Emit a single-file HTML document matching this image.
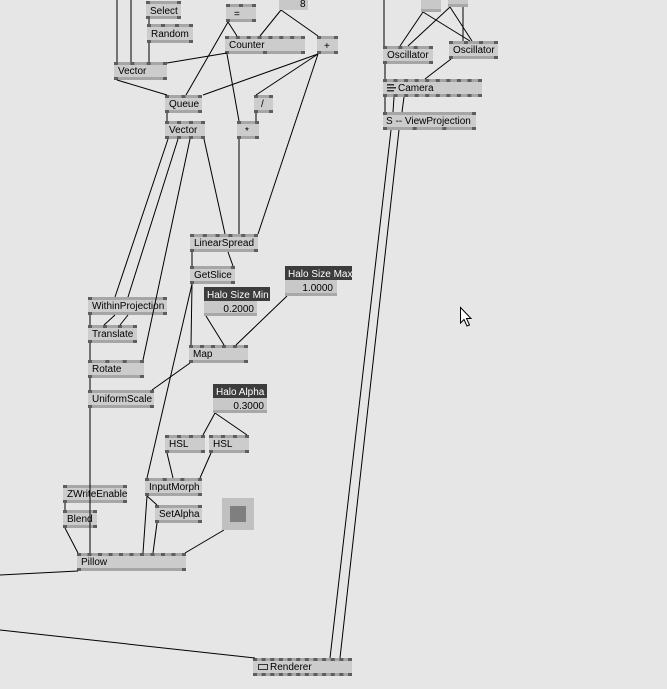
<!DOCTYPE html>
<html><head><meta charset="utf-8"><style>
html,body{margin:0;padding:0;background:#e6e6e6;}
svg{display:block;font-family:"Liberation Sans",sans-serif;font-size:10px;}
</style></head><body>
<svg width="667" height="689" viewBox="0 0 667 689" xmlns="http://www.w3.org/2000/svg">
<rect width="667" height="689" fill="#e6e6e6"/>
<g fill="#cccccc">
<rect x="146" y="1" width="35" height="18"/><rect x="147" y="24" width="46" height="19"/><rect x="226" y="4" width="30" height="18"/>
<rect x="225" y="36" width="80" height="18"/><rect x="317" y="36" width="21" height="18"/><rect x="114" y="62" width="53" height="18"/>
<rect x="165" y="95" width="37" height="18"/><rect x="165" y="121" width="40" height="18"/><rect x="254" y="95" width="19" height="18"/>
<rect x="237" y="121" width="22" height="18"/><rect x="383" y="46" width="50" height="18"/><rect x="449" y="41" width="49" height="18"/>
<rect x="383" y="79" width="99" height="18"/><rect x="383" y="112" width="93" height="18"/><rect x="190" y="234" width="68" height="18"/>
<rect x="190" y="266" width="45" height="18"/><rect x="88" y="297" width="79" height="18"/><rect x="88" y="325" width="49" height="18"/>
<rect x="88" y="360" width="56" height="18"/><rect x="189" y="345" width="59" height="18"/><rect x="88" y="390" width="66" height="18"/>
<rect x="165" y="435" width="40" height="18"/><rect x="209" y="435" width="40" height="18"/><rect x="145" y="478" width="57" height="18"/>
<rect x="63" y="485" width="64" height="18"/><rect x="63" y="510" width="34" height="18"/><rect x="155" y="505" width="47" height="18"/>
<rect x="77" y="553" width="109" height="18"/><rect x="253" y="658" width="99" height="18"/>
</g>
<g stroke="#a6a6a6" stroke-width="3">
<line x1="146" y1="2.5" x2="181" y2="2.5"/><line x1="146" y1="17.5" x2="181" y2="17.5"/>
<line x1="147" y1="25.5" x2="193" y2="25.5"/><line x1="147" y1="41.5" x2="193" y2="41.5"/>
<line x1="226" y1="5.5" x2="256" y2="5.5"/><line x1="226" y1="20.5" x2="256" y2="20.5"/>
<line x1="225" y1="37.5" x2="305" y2="37.5"/><line x1="225" y1="52.5" x2="305" y2="52.5"/>
<line x1="317" y1="37.5" x2="338" y2="37.5"/><line x1="317" y1="52.5" x2="338" y2="52.5"/>
<line x1="114" y1="63.5" x2="167" y2="63.5"/><line x1="114" y1="78.5" x2="167" y2="78.5"/>
<line x1="165" y1="96.5" x2="202" y2="96.5"/><line x1="165" y1="111.5" x2="202" y2="111.5"/>
<line x1="165" y1="122.5" x2="205" y2="122.5"/><line x1="165" y1="137.5" x2="205" y2="137.5"/>
<line x1="254" y1="96.5" x2="273" y2="96.5"/><line x1="254" y1="111.5" x2="273" y2="111.5"/>
<line x1="237" y1="122.5" x2="259" y2="122.5"/><line x1="237" y1="137.5" x2="259" y2="137.5"/>
<line x1="383" y1="47.5" x2="433" y2="47.5"/><line x1="383" y1="62.5" x2="433" y2="62.5"/>
<line x1="449" y1="42.5" x2="498" y2="42.5"/><line x1="449" y1="57.5" x2="498" y2="57.5"/>
<line x1="383" y1="80.5" x2="482" y2="80.5"/><line x1="383" y1="95.5" x2="482" y2="95.5"/>
<line x1="383" y1="113.5" x2="476" y2="113.5"/><line x1="383" y1="128.5" x2="476" y2="128.5"/>
<line x1="190" y1="235.5" x2="258" y2="235.5"/><line x1="190" y1="250.5" x2="258" y2="250.5"/>
<line x1="190" y1="267.5" x2="235" y2="267.5"/><line x1="190" y1="282.5" x2="235" y2="282.5"/>
<line x1="88" y1="298.5" x2="167" y2="298.5"/><line x1="88" y1="313.5" x2="167" y2="313.5"/>
<line x1="88" y1="326.5" x2="137" y2="326.5"/><line x1="88" y1="341.5" x2="137" y2="341.5"/>
<line x1="88" y1="361.5" x2="144" y2="361.5"/><line x1="88" y1="376.5" x2="144" y2="376.5"/>
<line x1="189" y1="346.5" x2="248" y2="346.5"/><line x1="189" y1="361.5" x2="248" y2="361.5"/>
<line x1="88" y1="391.5" x2="154" y2="391.5"/><line x1="88" y1="406.5" x2="154" y2="406.5"/>
<line x1="165" y1="436.5" x2="205" y2="436.5"/><line x1="165" y1="451.5" x2="205" y2="451.5"/>
<line x1="209" y1="436.5" x2="249" y2="436.5"/><line x1="209" y1="451.5" x2="249" y2="451.5"/>
<line x1="145" y1="479.5" x2="202" y2="479.5"/><line x1="145" y1="494.5" x2="202" y2="494.5"/>
<line x1="63" y1="486.5" x2="127" y2="486.5"/><line x1="63" y1="501.5" x2="127" y2="501.5"/>
<line x1="63" y1="511.5" x2="97" y2="511.5"/><line x1="63" y1="526.5" x2="97" y2="526.5"/>
<line x1="155" y1="506.5" x2="202" y2="506.5"/><line x1="155" y1="521.5" x2="202" y2="521.5"/>
<line x1="77" y1="554.5" x2="186" y2="554.5"/><line x1="77" y1="569.5" x2="186" y2="569.5"/>
<line x1="253" y1="659.5" x2="352" y2="659.5"/><line x1="253" y1="674.5" x2="352" y2="674.5"/>
</g>
<g stroke="#5e5e5e" stroke-width="3">
<line x1="146" y1="2.5" x2="181" y2="2.5" stroke-dasharray="4 27"/><line x1="146" y1="17.5" x2="181" y2="17.5" stroke-dasharray="4 27"/>
<line x1="147" y1="25.5" x2="193" y2="25.5" stroke-dasharray="4 10"/><line x1="147" y1="41.5" x2="193" y2="41.5" stroke-dasharray="4 38"/>
<line x1="226" y1="5.5" x2="256" y2="5.5" stroke-dasharray="4 9"/><line x1="226" y1="20.5" x2="256" y2="20.5" stroke-dasharray="4 22"/>
<line x1="225" y1="37.5" x2="305" y2="37.5" stroke-dasharray="4 6.857"/><line x1="225" y1="52.5" x2="305" y2="52.5" stroke-dasharray="4 34"/>
<line x1="317" y1="37.5" x2="338" y2="37.5" stroke-dasharray="4 13"/><line x1="317" y1="52.5" x2="338" y2="52.5" stroke-dasharray="4 13"/>
<line x1="114" y1="63.5" x2="167" y2="63.5" stroke-dasharray="4 12.33"/><line x1="114" y1="78.5" x2="167" y2="78.5" stroke-dasharray="4 45"/>
<line x1="165" y1="96.5" x2="202" y2="96.5" stroke-dasharray="4 12.5"/><line x1="165" y1="111.5" x2="202" y2="111.5" stroke-dasharray="4 29"/>
<line x1="165" y1="122.5" x2="205" y2="122.5" stroke-dasharray="4 8"/><line x1="165" y1="137.5" x2="205" y2="137.5" stroke-dasharray="4 8"/>
<line x1="254" y1="96.5" x2="273" y2="96.5" stroke-dasharray="4 11"/><line x1="254" y1="111.5" x2="273" y2="111.5" stroke-dasharray="4 11"/>
<line x1="237" y1="122.5" x2="259" y2="122.5" stroke-dasharray="4 14"/><line x1="237" y1="137.5" x2="259" y2="137.5" stroke-dasharray="4 14"/>
<line x1="383" y1="47.5" x2="433" y2="47.5" stroke-dasharray="4 11.33"/><line x1="383" y1="62.5" x2="433" y2="62.5" stroke-dasharray="4 42"/>
<line x1="449" y1="42.5" x2="498" y2="42.5" stroke-dasharray="4 11"/><line x1="449" y1="57.5" x2="498" y2="57.5" stroke-dasharray="4 41"/>
<line x1="383" y1="80.5" x2="482" y2="80.5" stroke-dasharray="4 6.56"/><line x1="383" y1="95.5" x2="482" y2="95.5" stroke-dasharray="4 6.56"/>
<line x1="383" y1="113.5" x2="476" y2="113.5" stroke-dasharray="4 85"/><line x1="383" y1="128.5" x2="476" y2="128.5" stroke-dasharray="4 25.67"/>
<line x1="190" y1="235.5" x2="258" y2="235.5" stroke-dasharray="4 8.8"/><line x1="190" y1="250.5" x2="258" y2="250.5" stroke-dasharray="4 60"/>
<line x1="190" y1="267.5" x2="235" y2="267.5" stroke-dasharray="4 37"/><line x1="190" y1="282.5" x2="235" y2="282.5" stroke-dasharray="4 37"/>
<line x1="88" y1="298.5" x2="167" y2="298.5" stroke-dasharray="4 71"/><line x1="88" y1="313.5" x2="167" y2="313.5" stroke-dasharray="4 71"/>
<line x1="88" y1="326.5" x2="137" y2="326.5" stroke-dasharray="4 11"/><line x1="88" y1="341.5" x2="137" y2="341.5" stroke-dasharray="4 41"/>
<line x1="88" y1="361.5" x2="144" y2="361.5" stroke-dasharray="4 13.33"/><line x1="88" y1="376.5" x2="144" y2="376.5" stroke-dasharray="4 48"/>
<line x1="189" y1="346.5" x2="248" y2="346.5" stroke-dasharray="4 7"/><line x1="189" y1="361.5" x2="248" y2="361.5" stroke-dasharray="4 51"/>
<line x1="88" y1="391.5" x2="154" y2="391.5" stroke-dasharray="4 58"/><line x1="88" y1="406.5" x2="154" y2="406.5" stroke-dasharray="4 58"/>
<line x1="165" y1="436.5" x2="205" y2="436.5" stroke-dasharray="4 8"/><line x1="165" y1="451.5" x2="205" y2="451.5" stroke-dasharray="4 32"/>
<line x1="209" y1="436.5" x2="249" y2="436.5" stroke-dasharray="4 8"/><line x1="209" y1="451.5" x2="249" y2="451.5" stroke-dasharray="4 32"/>
<line x1="145" y1="479.5" x2="202" y2="479.5" stroke-dasharray="4 13.67"/><line x1="145" y1="494.5" x2="202" y2="494.5" stroke-dasharray="4 49"/>
<line x1="63" y1="486.5" x2="127" y2="486.5" stroke-dasharray="4 56"/><line x1="63" y1="501.5" x2="127" y2="501.5" stroke-dasharray="4 56"/>
<line x1="63" y1="511.5" x2="97" y2="511.5" stroke-dasharray="4 26"/><line x1="63" y1="526.5" x2="97" y2="526.5" stroke-dasharray="4 26"/>
<line x1="155" y1="506.5" x2="202" y2="506.5" stroke-dasharray="4 39"/><line x1="155" y1="521.5" x2="202" y2="521.5" stroke-dasharray="4 39"/>
<line x1="77" y1="554.5" x2="186" y2="554.5" stroke-dasharray="4 6.5"/><line x1="77" y1="569.5" x2="186" y2="569.5" stroke-dasharray="4 101"/>
<line x1="253" y1="659.5" x2="352" y2="659.5" stroke-dasharray="4 4.64"/><line x1="253" y1="674.5" x2="352" y2="674.5" stroke-dasharray="4 4.64"/>
</g>
<g stroke="#000" stroke-width="1" fill="none">
<line x1="117" y1="0" x2="117" y2="62"/><line x1="131" y1="0" x2="131" y2="62"/>
<line x1="149" y1="19" x2="149" y2="24"/><line x1="149" y1="43" x2="149" y2="62"/>
<line x1="167" y1="63" x2="227" y2="53"/>
<line x1="117" y1="80" x2="167" y2="95"/>
<line x1="203" y1="95" x2="318" y2="54"/>
<line x1="228" y1="22" x2="186" y2="95"/>
<line x1="228" y1="22" x2="237" y2="36"/>
<line x1="227" y1="54" x2="239" y2="121"/>
<line x1="281" y1="10" x2="260" y2="36"/><line x1="281" y1="10" x2="318" y2="36"/>
<line x1="318" y1="54" x2="256" y2="95"/><line x1="318" y1="54" x2="258" y2="234"/>
<line x1="256" y1="113" x2="256" y2="121"/>
<line x1="239" y1="139" x2="239" y2="234"/>
<line x1="167" y1="113" x2="167" y2="121"/>
<line x1="168" y1="139" x2="115" y2="297"/><line x1="178" y1="139" x2="128" y2="297"/>
<line x1="190" y1="139" x2="143" y2="360"/><line x1="204" y1="139" x2="225" y2="234"/>
<line x1="115" y1="315" x2="104" y2="325"/><line x1="128" y1="315" x2="120" y2="325"/>
<line x1="192" y1="284" x2="147" y2="478"/>
<line x1="192" y1="284" x2="191" y2="345"/>
<line x1="228" y1="252" x2="233" y2="266"/><line x1="192" y1="252" x2="192" y2="266"/>
<line x1="206" y1="316" x2="224" y2="345"/><line x1="287" y1="296" x2="236" y2="345"/>
<line x1="190" y1="363" x2="152" y2="390"/>
<line x1="90" y1="315" x2="90" y2="325"/><line x1="90" y1="343" x2="90" y2="360"/>
<line x1="90" y1="378" x2="90" y2="390"/><line x1="90" y1="408" x2="90" y2="553"/>
<line x1="65" y1="503" x2="65" y2="510"/><line x1="65" y1="528" x2="78" y2="553"/>
<line x1="215" y1="413" x2="203" y2="435"/><line x1="215" y1="413" x2="247" y2="435"/>
<line x1="167" y1="453" x2="173" y2="478"/><line x1="211" y1="453" x2="200" y2="478"/>
<line x1="147" y1="496" x2="143" y2="553"/><line x1="147" y1="496" x2="157" y2="505"/>
<line x1="157" y1="523" x2="153" y2="553"/>
<line x1="224" y1="530" x2="185" y2="553"/>
<line x1="78" y1="571" x2="0" y2="575"/>
<line x1="0" y1="630" x2="255" y2="658"/>
<line x1="391" y1="130" x2="330" y2="658"/><line x1="399" y1="130" x2="340" y2="658"/>
<line x1="385" y1="97" x2="385" y2="112"/><line x1="394" y1="97" x2="393" y2="112"/><line x1="404" y1="97" x2="402" y2="112"/>
<line x1="385" y1="64" x2="385" y2="79"/><line x1="451" y1="59" x2="425" y2="79"/>
<line x1="384" y1="0" x2="384" y2="46"/>
<line x1="423" y1="12" x2="400" y2="46"/><line x1="450" y1="7" x2="408" y2="46"/>
<line x1="423" y1="12" x2="470" y2="41"/><line x1="450" y1="7" x2="472" y2="41"/>
<line x1="463" y1="7" x2="463" y2="41"/>
</g>
<rect x="279" y="0" width="29" height="10" fill="#c8c8c8"/><text x="300" y="7">8</text>
<rect x="421" y="0" width="20" height="12" fill="#c8c8c8"/><rect x="421" y="9" width="20" height="3" fill="#a8a8a8"/>
<rect x="448" y="0" width="20" height="7" fill="#c8c8c8"/><rect x="448" y="4" width="20" height="3" fill="#a8a8a8"/>
<rect x="222" y="498" width="32" height="32" fill="#c0c0c0"/><rect x="230" y="506" width="16" height="16" fill="#7f7f7f"/>
<rect x="285" y="266" width="67" height="14" fill="#3c3c3c"/><text x="288" y="277" fill="#fff">Halo Size Max</text>
<rect x="285" y="280" width="52" height="16" fill="#c8c8c8"/><rect x="285" y="293" width="52" height="3" fill="#a8a8a8"/><text x="333" y="291" text-anchor="end">1.0000</text>
<rect x="204" y="287" width="66" height="14" fill="#3c3c3c"/><text x="207" y="298" fill="#fff">Halo Size Min</text>
<rect x="204" y="301" width="53" height="15" fill="#c8c8c8"/><rect x="204" y="313" width="53" height="3" fill="#a8a8a8"/><text x="254" y="312" text-anchor="end">0.2000</text>
<rect x="213" y="384" width="54" height="14" fill="#3c3c3c"/><text x="216" y="395" fill="#fff">Halo Alpha</text>
<rect x="213" y="398" width="54" height="15" fill="#c8c8c8"/><rect x="213" y="410" width="54" height="3" fill="#a8a8a8"/><text x="264" y="409" text-anchor="end">0.3000</text>
<g>
<text x="150" y="14">Select</text><text x="151" y="37">Random</text><text x="234" y="17">=</text>
<text x="229" y="48">Counter</text><text x="324" y="49">+</text><text x="118" y="74">Vector</text>
<text x="169" y="107">Queue</text><text x="169" y="133">Vector</text><text x="261" y="107">/</text><text x="245" y="134">*</text>
<text x="387" y="58">Oscillator</text><text x="453" y="53">Oscillator</text>
<text x="398" y="91">Camera</text><text x="386" y="124">S  --  ViewProjection</text>
<text x="194" y="246">LinearSpread</text><text x="194" y="278">GetSlice</text>
<text x="92" y="309">WithinProjection</text><text x="92" y="337">Translate</text><text x="92" y="372">Rotate</text>
<text x="193" y="357">Map</text><text x="92" y="402">UniformScale</text>
<text x="169" y="447">HSL</text><text x="213" y="447">HSL</text><text x="149" y="490">InputMorph</text>
<text x="67" y="497">ZWriteEnable</text><text x="67" y="522">Blend</text><text x="159" y="517">SetAlpha</text>
<text x="81" y="565">Pillow</text><text x="270" y="670">Renderer</text>
</g>
<rect x="258.5" y="664.5" width="9" height="5" fill="none" stroke="#333"/>
<g fill="#333"><rect x="387" y="84" width="7" height="1.5"/><rect x="387" y="87" width="9" height="1.5"/><rect x="387" y="90" width="7" height="1.5"/></g>
<path d="M460.5 307.5 L460.5 323 L464 319.5 L467 326 L469.5 325 L466.5 318.5 L471 318.5 Z" fill="#fff" stroke="#000" stroke-width="1"/>
</svg>
</body></html>
